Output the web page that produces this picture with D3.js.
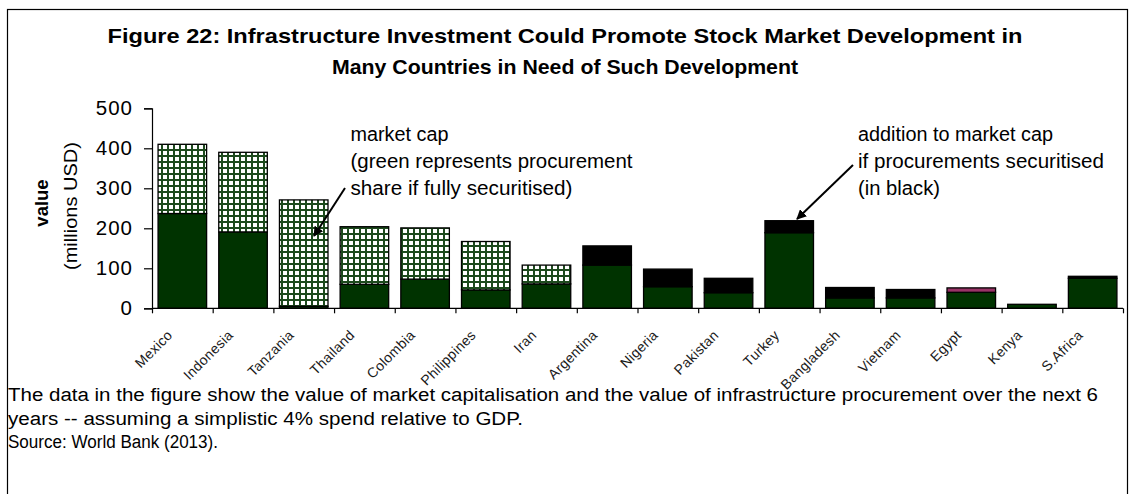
<!DOCTYPE html>
<html>
<head>
<meta charset="utf-8">
<script src="https://cdn.jsdelivr.net/npm/d3@7"></script>
<style>
  html, body { margin: 0; padding: 0; background: #fff; }
  svg { display: block; font-family: "Liberation Sans", Arial, sans-serif; }
</style>
</head>
<body>
<svg id="chart" width="1131" height="494"></svg>
<script>
// ---- data ----
const categories = ["Mexico", "Indonesia", "Tanzania", "Thailand", "Colombia", "Philippines", "Iran", "Argentina", "Nigeria", "Pakistan", "Turkey", "Bangladesh", "Vietnam", "Egypt", "Kenya", "S.Africa"];
const marketCap   = [237, 191, 5, 60, 73, 46, 61, 108, 54, 39, 189, 26, 26, 40, 10, 75];
const procurementShare = [173, 199, 266, 144, 128, 121, 47, 0, 0, 0, 0, 0, 0, 0, 0, 0];
const additionBlack    = [0, 0, 0, 0, 0, 0, 0, 48, 44, 36, 30, 26, 21, 0, 0, 5];
const otherPink        = [0, 0, 0, 0, 0, 0, 0, 0, 0, 0, 0, 0, 0, 11, 0, 0];
const yTicks = [0, 100, 200, 300, 400, 500];
const titleLines = ["Figure 22: Infrastructure Investment Could Promote Stock Market Development in", "Many Countries in Need of Such Development"];
const noteLeft = ["market cap", "(green represents procurement", "share if fully securitised)"];
const noteRight = ["addition to market cap", "if procurements securitised", "(in black)"];
const footer = ["The data in the figure show the value of market capitalisation and the value of infrastructure procurement over the next 6", "years -- assuming a simplistic 4% spend relative to GDP.", "Source: World Bank (2013)."];

const rows = categories.map((c, i) => ({cat: c, base: marketCap[i], hatch: procurementShare[i], black: additionBlack[i], pink: otherPink[i]}));
const keys = ["base", "hatch", "black", "pink"];
const fills = {base: "#003300", hatch: "url(#grid)", black: "#000000", pink: "#993366"};

const svg = d3.select("#chart");

// pattern
const defs = svg.append("defs");
const pat = defs.append("pattern").attr("id", "grid").attr("patternUnits", "userSpaceOnUse")
  .attr("width", 6).attr("height", 6);
pat.append("rect").attr("width", 6).attr("height", 6).attr("fill", "#1d4a1d");
pat.append("rect").attr("x", 1).attr("y", 1).attr("width", 4).attr("height", 4).attr("fill", "#ffffff");

// frame
svg.append("rect").attr("x", 7.5).attr("y", 9.5).attr("width", 1120).attr("height", 500)
  .attr("fill", "none").attr("stroke", "#000").attr("stroke-width", 1.2);

// title
svg.append("g").selectAll("text").data(titleLines).join("text")
  .attr("x", 565).attr("y", (d, i) => 43 + i * 31)
  .attr("text-anchor", "middle").attr("font-weight", "bold").attr("font-size", 21)
  .attr("textLength", (d, i) => [915, 466][i]).attr("lengthAdjust", "spacingAndGlyphs")
  .text(d => d);

// scales
const x0 = 152, x1 = 1123;
const x = d3.scaleBand().domain(categories).range([x0, x1]).paddingInner(0.2).paddingOuter(0.1);
const xEdges = d3.scaleLinear().domain([0, categories.length]).range([x0, x1]);
const y = d3.scaleLinear().domain([0, 500]).range([308.3, 108.3]);

// bars
const stacked = d3.stack().keys(keys)(rows);
const g = svg.append("g");
stacked.forEach(layer => {
  g.append("g").selectAll("rect").data(layer.filter(d => d[1] - d[0] > 0)).join("rect")
    .attr("x", d => x(d.data.cat))
    .attr("width", x.bandwidth())
    .attr("y", d => y(d[1]))
    .attr("height", d => y(d[0]) - y(d[1]))
    .attr("fill", fills[layer.key])
    .attr("stroke", "#000").attr("stroke-width", 1.3);
});

// y axis
const yAxis = svg.append("g").attr("transform", `translate(${x0},0)`)
  .call(d3.axisLeft(y).tickValues(yTicks).tickSize(8).tickPadding(11));
yAxis.select(".domain").attr("stroke", "#000").attr("stroke-width", 1.2);
yAxis.selectAll(".tick line").attr("stroke", "#000").attr("stroke-width", 1.2);
yAxis.selectAll(".tick text").attr("font-size", 20.5).attr("fill", "#000")
  .attr("font-family", "Liberation Sans, Arial, sans-serif").attr("letter-spacing", 1);

// x axis
const xAxis = svg.append("g").attr("transform", `translate(0,${y(0)})`)
  .call(d3.axisBottom(xEdges).tickValues(d3.range(categories.length + 1)).tickSize(5).tickFormat(""));
xAxis.select(".domain").attr("stroke", "#000").attr("stroke-width", 1.2).attr("d", `M${x0},0H${x1}`);
xAxis.selectAll(".tick line").attr("stroke", "#000").attr("stroke-width", 1.2);

// x labels
svg.append("g").selectAll("text").data(categories).join("text")
  .attr("transform", d => `translate(${x(d) + x.bandwidth() / 2 - 9},${336}) rotate(-45)`)
  .attr("text-anchor", "end").attr("font-size", 14).attr("letter-spacing", 0.3)
  .attr("fill", "#1a1a1a")
  .text(d => d);

// y axis titles
svg.append("text").attr("transform", "translate(48,203) rotate(-90)")
  .attr("text-anchor", "middle").attr("font-weight", "bold").attr("font-size", 18.5)
  .text("value");
svg.append("text").attr("transform", "translate(77,206) rotate(-90)")
  .attr("text-anchor", "middle").attr("font-size", 18.5)
  .attr("textLength", 128).attr("lengthAdjust", "spacingAndGlyphs")
  .text("(millions USD)");

// annotations
svg.append("g").selectAll("text").data(noteLeft).join("text")
  .attr("x", 350.5).attr("y", (d, i) => 141 + i * 27)
  .attr("font-size", 19.5)
  .attr("textLength", (d, i) => [98, 282, 222][i]).attr("lengthAdjust", "spacingAndGlyphs")
  .text(d => d);
svg.append("g").selectAll("text").data(noteRight).join("text")
  .attr("x", 858).attr("y", (d, i) => 141 + i * 27)
  .attr("font-size", 19.5)
  .attr("textLength", (d, i) => [195, 246, 82][i]).attr("lengthAdjust", "spacingAndGlyphs")
  .text(d => d);

// arrows
defs.append("marker").attr("id", "ah").attr("viewBox", "0 0 10 10").attr("refX", 9).attr("refY", 5)
  .attr("markerWidth", 5).attr("markerHeight", 5).attr("orient", "auto")
  .append("path").attr("d", "M0,0L10,5L0,10z").attr("fill", "#000");
const arrows = [[345, 188, 314, 236], [853, 165, 797, 219]];
svg.append("g").selectAll("line").data(arrows).join("line")
  .attr("x1", d => d[0]).attr("y1", d => d[1]).attr("x2", d => d[2]).attr("y2", d => d[3])
  .attr("stroke", "#000").attr("stroke-width", 2).attr("marker-end", "url(#ah)");

// footer
svg.append("g").selectAll("text").data(footer).join("text")
  .attr("x", 8).attr("y", (d, i) => 401 + i * 23.5)
  .attr("font-size", 18)
  .attr("textLength", (d, i) => [1090, 515, 210][i]).attr("lengthAdjust", "spacingAndGlyphs")
  .text(d => d);
</script>
</body>
</html>
